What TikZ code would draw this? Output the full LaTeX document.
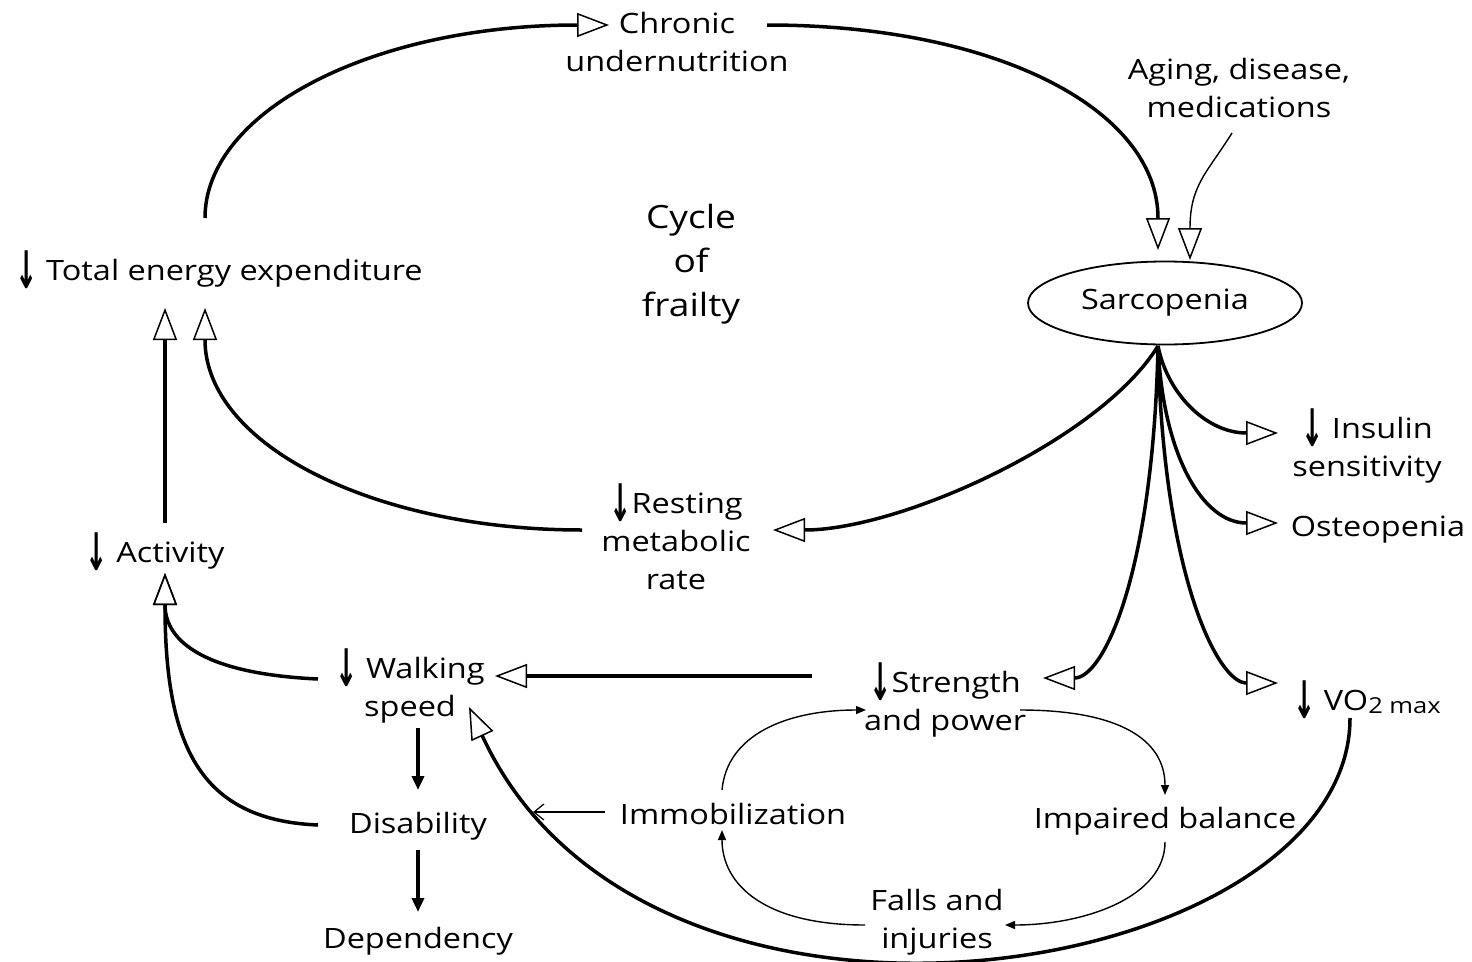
\documentclass[tikz,border=0pt]{standalone}
\usepackage{fontspec}
\usepackage{graphicx}
\setmainfont{Open Sans}[FakeStretch=1.16]
\newfontfamily\arrowfont{DejaVu Sans}
\usetikzlibrary{arrows.meta,shapes.geometric}
% tall "decrease" arrow set before a label; it takes no vertical room
\newcommand\dn{\smash{\raisebox{-8pt}{\scalebox{0.95}[1.85]{\arrowfont\bfseries ↓}}}}
\begin{document}
\begin{tikzpicture}[x=1pt,y=-1pt,
  lbl/.style={inner sep=0pt, align=center, font=\fontsize{28}{38}\selectfont},
  big/.style={inner sep=0pt, align=center, font=\fontsize{32}{44}\selectfont},
  sarcbox/.style={ellipse, draw, line width=1.8pt, minimum width=274pt,
    minimum height=83pt, inner sep=0pt, font=\fontsize{28}{38}\selectfont},
  heavy/.style={line width=3.5pt},
  light/.style={line width=1.4pt},
  hollow/.style={-{Triangle[open,length=32pt,width=24pt,line width=1.5pt]}},
  solid/.style={-{Triangle[length=14pt,width=12pt]}},
  small/.style={-{Triangle[length=10pt,width=8pt]}},
  barb/.style={-{Straight Barb[length=10pt,width=16pt,line width=1.2pt]}}]
\useasboundingbox (0,0) rectangle (1472,961);

% labels
\node[lbl] (chronic) at (677,42) {Chronic\\undernutrition};
\node[lbl] (aging) at (1239,88) {Aging, disease,\\medications};
\node[big] (cycle) at (691,264) {Cycle\\of\\frailty};
\node[lbl] (tee) at (219,273) {\dn\ Total energy expenditure};
\node[sarcbox] (sarc) at (1165,303) {Sarcopenia};
\node[lbl] (insulin) at (1367,450) {\dn\ Insulin\\sensitivity};
\node[lbl] (osteo) at (1378,530) {Osteopenia};
\node[lbl] (rmr) at (676,541) {\dn Resting\\metabolic\\rate};
\node[lbl] (act) at (155,556) {\dn\ Activity};
\node[lbl] (walk) at (410,690) {\dn\ Walking\\speed};
\node[lbl] (strength) at (945,704) {\dn Strength\\and power};
\node[lbl] (vo2) at (1367,702) {\dn\ VO\raisebox{-3pt}{\fontsize{22}{22}\selectfont 2 max}};
\node[lbl] (disab) at (418,826) {Disability};
\node[lbl] (depend) at (418,941) {Dependency};
\node[lbl] (immob) at (733,814) {Immobilization};
\node[lbl] (balance) at (1165,821) {Impaired balance};
\node[lbl] (falls) at (937,922) {Falls and\\injuries};

% outer cycle
\draw[heavy,hollow] ([shift={(-14,-55)}]tee.center) .. controls +(0,-107) and +(-236,0) .. ([shift={(-68,-17)}]chronic.center);
\draw[heavy,hollow] ([shift={(90,-17)}]chronic.center) .. controls +(230,0) and +(0,-140) .. ([shift={(-7,-53)}]sarc.center);
\draw[light,hollow] ([shift={(-7,45)}]aging.center) .. controls +(-25,40) and +(0,-75) .. ([shift={(25,-43)}]sarc.center);

% consequences of sarcopenia
\draw[heavy,hollow] ([shift={(-7,43)}]sarc.center) .. controls +(-58,94) and +(127,0) .. ([shift={(97,-11)}]rmr.center);
\draw[heavy,hollow] ([shift={(-7,43)}]sarc.center) .. controls +(10,50) and +(-70,0) .. ([shift={(-89,-17)}]insulin.center);
\draw[heavy,hollow] ([shift={(-7,43)}]sarc.center) .. controls +(5,110) and +(-75,0) .. ([shift={(-100,-7)}]osteo.center);
\draw[heavy,hollow] ([shift={(-7,43)}]sarc.center) .. controls +(-5,230) and +(60,0) .. ([shift={(98,-26)}]strength.center);
\draw[heavy,hollow] ([shift={(-7,43)}]sarc.center) .. controls +(5,230) and +(-60,0) .. ([shift={(-89,-19)}]vo2.center);

% back to energy expenditure
\draw[heavy,hollow] ([shift={(-94,-11)}]rmr.center) .. controls +(-208,0) and +(0,137) .. ([shift={(-14,35)}]tee.center);
\draw[heavy,hollow] ([shift={(10,-33)}]act.center) -- ([shift={(-54,35)}]tee.center);
\draw[heavy,hollow] ([shift={(-92,-11)}]walk.center) .. controls +(-110,-5) and +(0,70) .. ([shift={(10,17)}]act.center);
\draw[heavy,hollow] ([shift={(-100,-1)}]disab.center) .. controls +(-120,-5) and +(0,170) .. ([shift={(10,17)}]act.center);
\draw[heavy,hollow] ([shift={(-133,-28)}]strength.center) -- ([shift={(85,-14)}]walk.center);
\draw[heavy,hollow] ([shift={(-17,16)}]vo2.center) .. controls +(0,262) and +(180,390) .. ([shift={(59,17)}]walk.center);

% disability chain
\draw[heavy,solid] ([shift={(8,38)}]walk.center) -- ([shift={(0,-36)}]disab.center);
\draw[heavy,solid] ([shift={(0,24)}]disab.center) -- ([shift={(0,-29)}]depend.center);
\draw[light,barb] ([shift={(-128,-2)}]immob.center) -- ([shift={(115,-14)}]disab.center);

% inner falls cycle
\draw[light,small] ([shift={(-11,-24)}]immob.center) .. controls +(5,-55) and +(-80,0) .. ([shift={(-79,6)}]strength.center);
\draw[light,small] ([shift={(75,6)}]strength.center) .. controls +(100,0) and +(0,-55) .. ([shift={(0,-26)}]balance.center);
\draw[light,small] ([shift={(0,21)}]balance.center) .. controls +(0,55) and +(80,0) .. ([shift={(68,3)}]falls.center);
\draw[light,small] ([shift={(-72,3)}]falls.center) .. controls +(-100,0) and +(0,55) .. ([shift={(-11,16)}]immob.center);
\end{tikzpicture}
\end{document}
